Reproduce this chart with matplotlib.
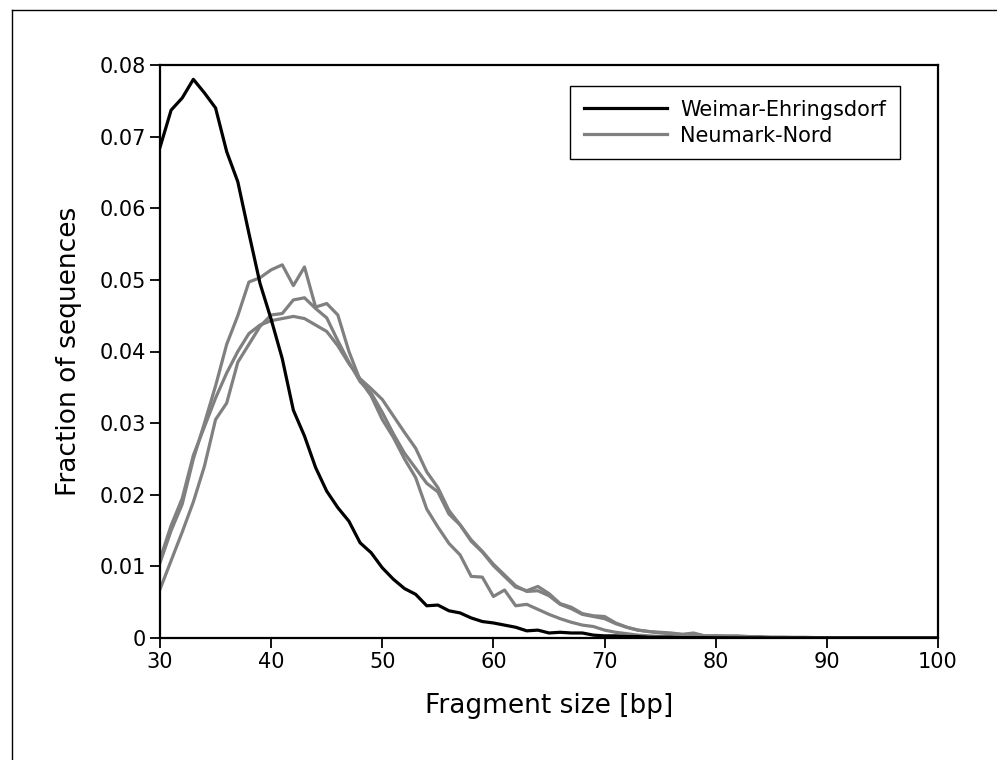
import matplotlib
matplotlib.use("Agg")
import matplotlib.pyplot as plt
from matplotlib.lines import Line2D
import numpy as np

sizes = list(range(30, 101))

weimar = [0.0685, 0.0737, 0.0754, 0.0780, 0.0761, 0.0740, 0.0679, 0.0637, 0.0565, 0.0495,
          0.0445, 0.0390, 0.0318, 0.0282, 0.0238, 0.0205, 0.0182, 0.0163, 0.0133, 0.0119,
          0.0098, 0.0082, 0.0069, 0.0061, 0.0045, 0.0046, 0.0038, 0.0035, 0.0028, 0.0023,
          0.0021, 0.0018, 0.0015, 0.0010, 0.0011, 0.0007, 0.0008, 0.0007, 0.0007, 0.0004,
          0.0003, 0.0003, 0.0002, 0.0002, 0.0001, 0.0001, 0.0001, 0.00005, 0.00005, 0.00005,
          0.00003, 0.00003, 0.00002, 0.00002, 0.00002, 0.00001, 0.00001, 0.00001, 0.00001, 0.00001,
          0.0, 0.0, 0.0, 0.0, 0.0, 0.0, 0.0, 0.0, 0.0, 0.0, 0.0]

neumark_1 = [0.0105, 0.0150, 0.0187, 0.0250, 0.0300, 0.0352, 0.0410, 0.0450, 0.0497, 0.0503,
             0.0514, 0.0521, 0.0492, 0.0518, 0.0462, 0.0467, 0.0451, 0.0400, 0.0360, 0.0338,
             0.0305, 0.0280, 0.0250, 0.0224, 0.0180, 0.0155, 0.0132, 0.0116, 0.0086, 0.0085,
             0.0058, 0.0067, 0.0045, 0.0047, 0.0040, 0.0033, 0.0027, 0.0022, 0.0018, 0.0016,
             0.0011, 0.0008, 0.0006, 0.0004, 0.0003, 0.0002, 0.0002, 0.0001, 0.0001, 0.0001,
             0.00008, 0.00006, 0.00005, 0.00004, 0.00003, 0.00003, 0.00002, 0.00002, 0.00001, 0.00001,
             0.00001, 0.00001, 0.0, 0.0, 0.0, 0.0, 0.0, 0.0, 0.0, 0.0, 0.0]

neumark_2 = [0.0068, 0.0108, 0.0148, 0.0190, 0.0240, 0.0305, 0.0328, 0.0385, 0.0410, 0.0435,
             0.0451, 0.0453, 0.0472, 0.0475, 0.0460, 0.0447, 0.0415, 0.0385, 0.0358, 0.0342,
             0.0315, 0.0285, 0.0258, 0.0237, 0.0216, 0.0204, 0.0173, 0.0158, 0.0135, 0.0120,
             0.0101, 0.0086, 0.0071, 0.0066, 0.0072, 0.0062, 0.0048, 0.0043, 0.0034, 0.0031,
             0.0030, 0.0021, 0.0015, 0.0011, 0.0009, 0.0008, 0.0007, 0.0005, 0.0007, 0.0003,
             0.0003, 0.0003, 0.0003, 0.0002, 0.0002, 0.0001, 0.0001, 0.0001, 0.0001, 0.00005,
             0.00005, 0.00005, 0.00004, 0.00003, 0.00003, 0.00002, 0.00002, 0.00001, 0.00001, 0.00001, 0.00001]

neumark_3 = [0.0110, 0.0157, 0.0195, 0.0255, 0.0295, 0.0335, 0.0370, 0.0400, 0.0425, 0.0437,
             0.0443, 0.0446, 0.0449, 0.0446, 0.0437, 0.0428, 0.0408, 0.0383, 0.0362, 0.0348,
             0.0333, 0.0310, 0.0287, 0.0265, 0.0232, 0.0210, 0.0178, 0.0158, 0.0137, 0.0121,
             0.0103, 0.0088, 0.0073, 0.0065, 0.0066, 0.0059, 0.0047, 0.0041, 0.0033, 0.0030,
             0.0027, 0.0020, 0.0015, 0.0011, 0.0009, 0.0007, 0.0006, 0.0005, 0.0005, 0.0003,
             0.0003, 0.0002, 0.0002, 0.0001, 0.0001, 0.0001, 0.0001, 0.00005, 0.00005, 0.00005,
             0.00004, 0.00003, 0.00003, 0.00002, 0.00002, 0.00001, 0.00001, 0.00001, 0.00001, 0.0, 0.0]

x_ticks = [30, 40, 50, 60, 70, 80, 90, 100]
y_ticks = [0, 0.01, 0.02, 0.03, 0.04, 0.05, 0.06, 0.07, 0.08]

plt.rcParams['font.family'] = ['DejaVu Sans']

fig = plt.figure(figsize=(9.97, 7.6), dpi=100)
ax = fig.add_axes([160/997, 1-638/760, (938-160)/997, (638-65)/760])

gray = '#808080'
for i, s in enumerate([neumark_1, neumark_2, neumark_3]):
    ax.plot(sizes, s, color=gray, lw=2.3,
            label='Neumark-Nord' if i == 0 else None, zorder=2)
ax.plot(sizes, weimar, color='black', lw=2.3, label='Weimar-Ehringsdorf', zorder=3)

ax.set_xlim(30, 100)
ax.set_ylim(0, 0.08)
ax.set_xticks(x_ticks)
ax.set_yticks(y_ticks)
ax.set_yticklabels(['0' if v == 0 else f'{v:.2f}' for v in y_ticks])
ax.tick_params(direction='out', length=7, width=1.3, labelsize=15,
               top=False, right=False, pad=3)
for sp in ax.spines.values():
    sp.set_linewidth(1.6)

ax.set_xlabel('Fragment size [bp]', fontsize=19, labelpad=15)
ax.set_ylabel('Fraction of sequences', fontsize=19, labelpad=13)

handles, labels = ax.get_legend_handles_labels()
order = [1, 0]
leg = ax.legend([handles[i] for i in order], [labels[i] for i in order],
                loc='upper right', bbox_to_anchor=(0.951, 0.963), borderaxespad=0,
                fontsize=15, handlelength=4.0, fancybox=False, framealpha=1,
                edgecolor='black', borderpad=0.65, labelspacing=0.28, handletextpad=0.65)
leg.get_frame().set_linewidth(1.0)

# figure border (top and left visible)
fig.add_artist(Line2D([11.5/997, 1.0], [1-9.5/760, 1-9.5/760], transform=fig.transFigure,
                      color='black', lw=1.0))
fig.add_artist(Line2D([11.5/997, 11.5/997], [0.0, 1-9.5/760], transform=fig.transFigure,
                      color='black', lw=1.0))

fig.savefig('out.png', dpi=100)
